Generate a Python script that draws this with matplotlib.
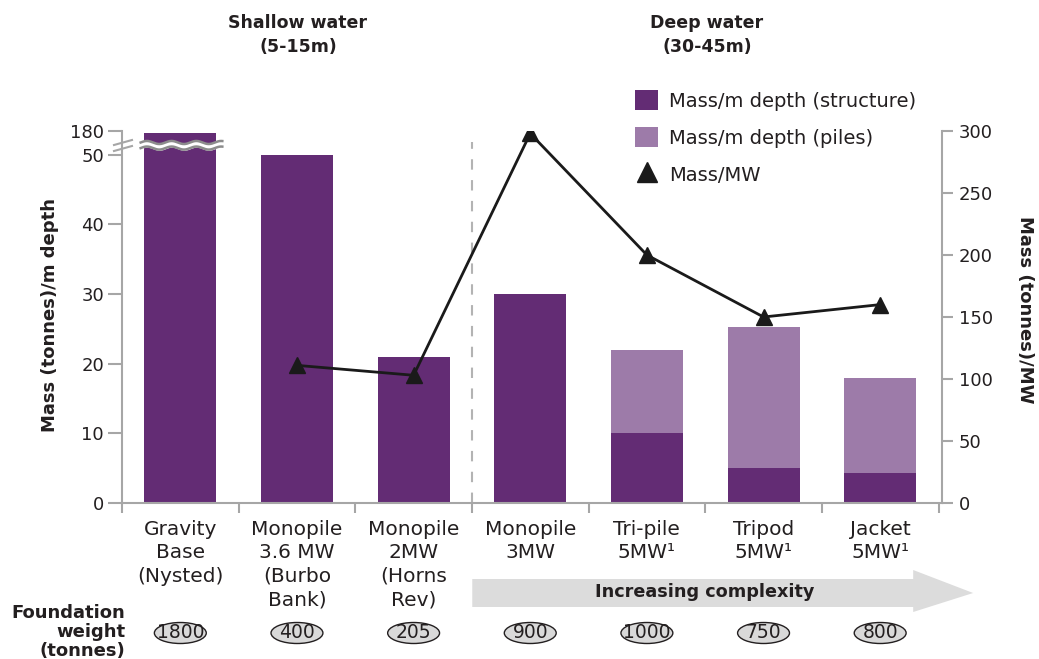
import numpy as np
import matplotlib
matplotlib.use("Agg")
import matplotlib.pyplot as plt
from matplotlib.patches import Patch, Ellipse, Polygon
from matplotlib.lines import Line2D
import matplotlib.transforms as mtransforms

plt.rcParams['font.family'] = ['DejaVu Sans']

# ---------------- data ----------------
categories = ["Gravity\nBase\n(Nysted)", "Monopile\n3.6 MW\n(Burbo\nBank)", "Monopile\n2MW\n(Horns\nRev)",
              "Monopile\n3MW", "Tri-pile\n5MW\u00b9", "Tripod\n5MW\u00b9", "Jacket\n5MW\u00b9"]
structure = [180, 50, 21, 30, 10, 5, 4.3]          # tonnes / m depth
piles = [0, 0, 0, 0, 12, 20.2, 13.6]                # tonnes / m depth
mass_per_mw = [np.nan, 111, 103, 298, 200, 150, 160]  # tonnes / MW
foundation_weight = [1800, 400, 205, 900, 1000, 750, 800]  # tonnes
left_ticks = [0, 10, 20, 30, 40, 50, 180]
right_ticks = [0, 50, 100, 150, 200, 250, 300]

# ---------------- style ----------------
TXT = '#231f20'
AXC = '#a6a6a6'
C_STRUCT = '#632c74'
C_PILES = '#9d7ba9'
W, H = 1039, 659

BREAK_LOW, BREAK_TOP_VAL, BREAK_TOP_DISP = 50, 180, 53.4


def disp(v):
    """broken left scale: linear to 50, compressed above"""
    v = np.asarray(v, dtype=float)
    return np.where(v <= BREAK_LOW, v,
                    BREAK_LOW + (v - BREAK_LOW) * (BREAK_TOP_DISP - BREAK_LOW) / (BREAK_TOP_VAL - BREAK_LOW))


fig = plt.figure(figsize=(W / 100, H / 100), dpi=100)
ax = fig.add_axes([122 / W, 1 - 503 / H, 820 / W, 372 / H])
ax2 = ax.twinx()

x = np.arange(len(categories))
bw = 0.617
s_disp = disp(structure)
s_disp = np.minimum(s_disp, 53.1)
ax.bar(x, s_disp, width=bw, color=C_STRUCT, zorder=2)
ax.bar(x, piles, width=bw, bottom=s_disp, color=C_PILES, zorder=2)

ax.set_xlim(-0.5, 6.53)
ax.set_ylim(0, BREAK_TOP_DISP)
ax2.set_ylim(0, 300)

# left axis
ax.set_yticks(disp(left_ticks))
ax.set_yticklabels([str(t) for t in left_ticks])
ax.tick_params(axis='y', which='major', direction='out', length=10, width=1.5, color=AXC,
               labelsize=13, labelcolor=TXT, pad=3)
# bottom axis: boundary ticks + category labels
ax.set_xticks(np.arange(-0.5, 7.0, 1.0))
ax.set_xticklabels([])
ax.set_xticks(x, minor=True)
ax.set_xticklabels(categories, minor=True, fontsize=14.5, color=TXT, linespacing=1.3, va='top')
ax.tick_params(axis='x', which='major', direction='out', length=7, width=1.5, color=AXC)
ax.tick_params(axis='x', which='minor', length=0, pad=12)

for sp in ['top']:
    ax.spines[sp].set_visible(False)
    ax2.spines[sp].set_visible(False)
ax.spines['right'].set_visible(False)
ax.spines['left'].set_color(AXC)
ax.spines['left'].set_linewidth(1.5)
ax.spines['bottom'].set_color(AXC)
ax.spines['bottom'].set_linewidth(1.5)
ax2.spines['left'].set_visible(False)
ax2.spines['bottom'].set_visible(False)
ax2.spines['right'].set_color(AXC)
ax2.spines['right'].set_linewidth(1.5)
ax2.set_yticks(right_ticks)
ax2.tick_params(axis='y', direction='out', length=8, width=1.5, color=AXC,
                labelsize=13, labelcolor=TXT, pad=4)

# dashed separator
ax.axvline(2.5, ymin=0.0, ymax=(503 - 142) / 372, color='#b3b3b3', lw=1.5, ls=(0, (5, 5)), zorder=1)

# Mass/MW line
ax2.plot(x, mass_per_mw, color='#1a1a1a', lw=2, marker='^', ms=12, zorder=5)

# break on the gravity bar
xx = np.linspace(-0.34, 0.36, 200)
wave = 0.22 * np.sin((xx + 0.34) / 0.7 * 2 * np.pi * 3.3)
up = 51.75 + wave
lo = 50.95 + wave
ax.fill_between(xx, lo, up, color='white', zorder=3, clip_on=False)
ax.plot(xx, up, color='#8c8c8c', lw=1.8, zorder=4, clip_on=False)
ax.plot(xx, lo, color='#8c8c8c', lw=1.8, zorder=4, clip_on=False)

# break marks on the left axis
for (x0, y0, x1, y1) in [(114, 145, 132, 140), (114, 151, 132, 146)]:
    fig.add_artist(Line2D([x0 / W, x1 / W], [1 - y0 / H, 1 - y1 / H], color=AXC, lw=1.5))

# legend
handles = [Patch(facecolor=C_STRUCT, edgecolor='none'),
           Patch(facecolor=C_PILES, edgecolor='none'),
           Line2D([], [], color='#1a1a1a', marker='^', ls='none', ms=14)]
labels = ['Mass/m depth (structure)', 'Mass/m depth (piles)', 'Mass/MW']
fig.legend(handles, labels, loc='upper left', bbox_to_anchor=(635 / W, 1 - 90 / H),
           frameon=False, fontsize=14, handlelength=1.2, handleheight=1.2,
           handletextpad=0.55, labelspacing=0.85, borderpad=0, borderaxespad=0,
           labelcolor=TXT)

# axis titles
fig.text(50 / W, 1 - 315 / H, 'Mass (tonnes)/m depth', rotation=90, ha='center', va='center',
         fontsize=13, fontweight='bold', color=TXT)
fig.text(1025 / W, 1 - 310 / H, 'Mass (tonnes)/MW', rotation=270, ha='center', va='center',
         fontsize=13, fontweight='bold', color=TXT)

# group headers
fig.text(298 / W, 1 - 35 / H, 'Shallow water\n(5-15m)', ha='center', va='center',
         fontsize=12.5, fontweight='bold', color=TXT, linespacing=1.45)
fig.text(707 / W, 1 - 35 / H, 'Deep water\n(30-45m)', ha='center', va='center',
         fontsize=12.5, fontweight='bold', color=TXT, linespacing=1.45)

# complexity arrow
bt = mtransforms.blended_transform_factory(ax.transData, fig.transFigure)
xs, xb, xt = 2.503, 6.283, 6.797
yt, yb = 1 - 579 / H, 1 - 607 / H
hyt, hyb = 1 - 570 / H, 1 - 612 / H
arrow = Polygon([[xs, yb], [xs, yt], [xb, yt], [xb, hyt], [xt, (yt + yb) / 2], [xb, hyb], [xb, yb]],
                closed=True, transform=bt, facecolor='#dcdcdc', edgecolor='none', clip_on=False)
fig.add_artist(arrow)
fig.text(705 / W, 1 - 592 / H, 'Increasing complexity', ha='center', va='center',
         fontsize=12.7, fontweight='bold', color=TXT)

# foundation weights
fig.text(125 / W, 1 - 632 / H, 'Foundation\nweight\n(tonnes)', ha='right', va='center',
         fontsize=13, fontweight='bold', color=TXT, linespacing=1.05)
ey = 1 - 633 / H
for xi, fw in zip(x, foundation_weight):
    e = Ellipse((xi, ey), width=0.445, height=21 / H, transform=bt, facecolor='#d9d9d9',
                edgecolor='#231f20', lw=1.0, clip_on=False)
    fig.add_artist(e)
    fig.text(xi, ey, str(fw), transform=bt, ha='center', va='center', fontsize=13.5, color=TXT)

fig.savefig('out.png', dpi=100)
